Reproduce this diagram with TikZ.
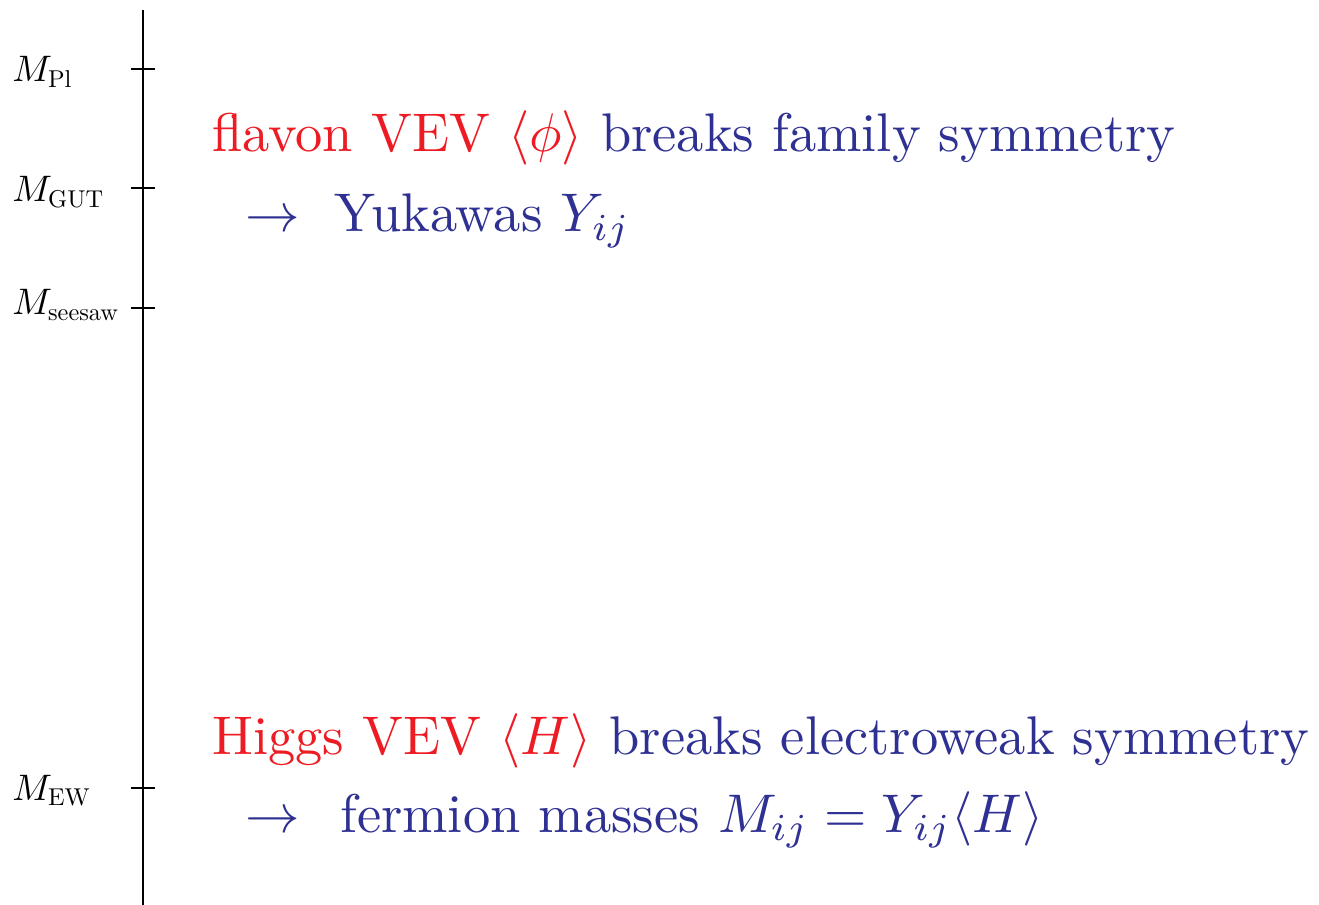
\documentclass[tikz,border=0pt]{standalone}
\usepackage{amsmath}
\usepackage{graphicx}
\definecolor{vred}{RGB}{237,28,36}
\definecolor{vblue}{RGB}{46,49,146}
\newcommand{\bigtxt}[1]{\scalebox{3.1}{#1}}
\newcommand{\lbltxt}[1]{\scalebox{2.1}{#1}}
\newcommand{\lsub}[1]{\mbox{\scalebox{0.66}{\fontsize{10}{12}\selectfont #1}}}
\begin{document}
\begin{tikzpicture}[x=0.02cm,y=-0.02cm,
  axis/.style={line width=1.1pt,black},
  lbl/.style={anchor=base west,inner sep=0pt},
  txt/.style={anchor=base west,inner sep=0pt,text=vblue}]
\useasboundingbox (0,0) rectangle (1319,905);
\coordinate (top) at (143,10);
\coordinate (bot) at (143,905);
\draw[axis] (top) -- (bot);
\foreach \n/\y in {pl/69,gut/188,see/308,ew/788}{
  \coordinate (\n L) at (131,\y);
  \coordinate (\n R) at (155,\y);
  \draw[axis] (\n L) -- (\n R);
}
\node[lbl] (lpl) at (12,82) {\lbltxt{$M_{\lsub{Pl}}$}};
\node[lbl] (lgut) at (12,202) {\lbltxt{$M_{\lsub{GUT}}$}};
\node[lbl] (lsee) at (12,315) {\lbltxt{$M_{\lsub{seesaw}}$}};
\node[lbl] (lew) at (12,800) {\lbltxt{$M_{\lsub{EW}}$}};
\node[txt] (t1) at (212,152) {\bigtxt{\textcolor{vred}{flavon VEV $\langle\phi\rangle$} breaks family symmetry}};
\node[txt] (t2) at (212,232) {\bigtxt{\hspace{0.6em}$\rightarrow$\hspace{0.65em}Yukawas $Y_{ij}$}};
\node[txt] (t3) at (212,754) {\bigtxt{\textcolor{vred}{Higgs VEV $\langle H\rangle$} breaks electroweak symmetry}};
\node[txt] (t4) at (212,832) {\bigtxt{\hspace{0.6em}$\rightarrow$\hspace{0.75em}fermion masses $M_{ij}=Y_{ij}\langle H\rangle$}};
\end{tikzpicture}
\end{document}
